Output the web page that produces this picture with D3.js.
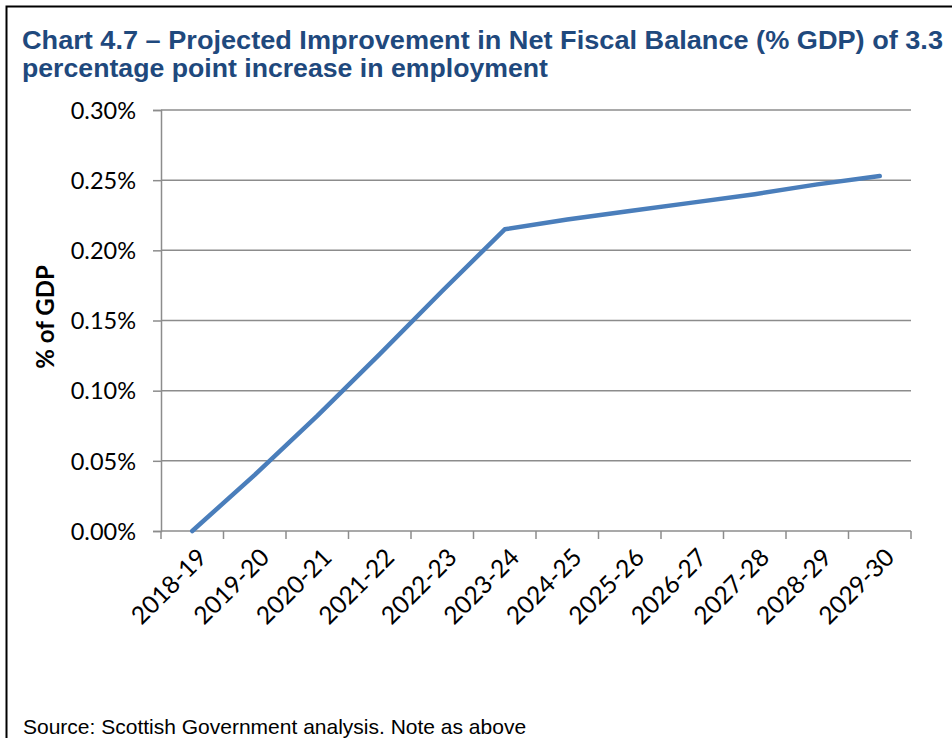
<!DOCTYPE html>
<html>
<head>
<meta charset="utf-8">
<script src="https://cdn.jsdelivr.net/npm/d3@7"></script>
<style>
  html, body { margin: 0; padding: 0; background: #fff; }
  svg { display: block; }
</style>
</head>
<body>
<svg id="chart" width="952" height="738"></svg>
<script>
// Financial years on the x axis
const years = ["2018-19", "2019-20", "2020-21", "2021-22", "2022-23", "2023-24",
               "2024-25", "2025-26", "2026-27", "2027-28", "2028-29", "2029-30"];
// Improvement in net fiscal balance, % of GDP
const balance = [0.000, 0.040, 0.082, 0.126, 0.171, 0.215,
                 0.222, 0.228, 0.234, 0.240, 0.247, 0.253];
// Y axis ticks
const yTicks = [0, 0.05, 0.10, 0.15, 0.20, 0.25, 0.30];

const titleLines = [
  "Chart 4.7 – Projected Improvement in Net Fiscal Balance (% GDP) of 3.3",
  "percentage point increase in employment"
];
const titleWidths = [921, 526];
const yTitle = "% of GDP";
const source = "Source: Scottish Government analysis. Note as above";

const svg = d3.select("#chart");
const plot = { left: 161, right: 911, top: 110, bottom: 531 };
const grey = "#8c8c8c";
const labelFont = "Lato, 'Open Sans', sans-serif";

// Frame lines around the figure
svg.append("path")
  .attr("d", "M6.5,738 V6.5 H952")
  .attr("fill", "none").attr("stroke", "#000").attr("stroke-width", 2);

// Title
const title = svg.append("g");
titleLines.forEach((t, i) => {
  title.append("text")
    .attr("x", 22).attr("y", 49 + i * 28)
    .attr("font-family", "'Liberation Sans', Arial, sans-serif")
    .attr("font-weight", "bold").attr("font-size", 26)
    .attr("fill", "#1f497d")
    .attr("textLength", titleWidths[i])
    .attr("lengthAdjust", "spacingAndGlyphs")
    .text(t);
});

const x = d3.scaleBand().domain(years).range([plot.left, plot.right]);
const y = d3.scaleLinear().domain([0, 0.30]).range([plot.bottom, plot.top]);

// Horizontal gridlines
svg.append("g").selectAll("line").data(yTicks.filter(d => d > 0)).join("line")
  .attr("x1", plot.left).attr("x2", plot.right)
  .attr("y1", d => y(d)).attr("y2", d => y(d))
  .attr("stroke", grey).attr("stroke-width", 1.5);

// Y axis
const yAxis = svg.append("g")
  .attr("transform", `translate(${plot.left},0)`)
  .call(d3.axisLeft(y).tickValues(yTicks).tickSize(8).tickPadding(17)
    .tickFormat(d => d3.format(".2f")(d) + "%"));
yAxis.select(".domain").attr("stroke", grey).attr("stroke-width", 1.5);
yAxis.selectAll(".tick line").attr("stroke", grey).attr("stroke-width", 1.5);
yAxis.selectAll(".tick text")
  .attr("font-family", labelFont).attr("font-size", 23.5).attr("fill", "#000")
  .attr("dy", "0.35em");

// X axis: ticks at category boundaries
const xAxisG = svg.append("g");
xAxisG.append("line")
  .attr("x1", plot.left).attr("x2", plot.right)
  .attr("y1", plot.bottom).attr("y2", plot.bottom)
  .attr("stroke", grey).attr("stroke-width", 1.5);
const bounds = years.map(d => x(d)).concat([x(years[years.length - 1]) + x.bandwidth()]);
xAxisG.selectAll("line.tick").data(bounds).join("line")
  .attr("class", "tick")
  .attr("x1", d => d).attr("x2", d => d)
  .attr("y1", plot.bottom).attr("y2", plot.bottom + 8)
  .attr("stroke", grey).attr("stroke-width", 1.5);
xAxisG.selectAll("text").data(years).join("text")
  .attr("transform", d => `translate(${x(d) + x.bandwidth() / 2 + 10},${plot.bottom + 22}) rotate(-45)`)
  .attr("text-anchor", "end")
  .attr("dy", "0.35em")
  .attr("font-family", labelFont).attr("font-size", 24.5).attr("fill", "#000")
  .text(d => d);

// Y axis title
svg.append("text")
  .attr("transform", "translate(54,317) rotate(-90)")
  .attr("text-anchor", "middle")
  .attr("font-family", labelFont).attr("font-weight", "bold").attr("font-size", 24)
  .attr("fill", "#000")
  .text(yTitle);

// Data line
const line = d3.line()
  .x((d, i) => x(years[i]) + x.bandwidth() / 2)
  .y(d => y(d));
svg.append("path")
  .datum(balance)
  .attr("d", line)
  .attr("fill", "none")
  .attr("stroke", "#4a7ebb")
  .attr("stroke-width", 4.5)
  .attr("stroke-linejoin", "round")
  .attr("stroke-linecap", "round");

// Source note
svg.append("text")
  .attr("x", 23).attr("y", 734)
  .attr("font-family", "'Liberation Sans', Arial, sans-serif")
  .attr("font-size", 21).attr("fill", "#000")
  .text(source);
</script>
</body>
</html>
